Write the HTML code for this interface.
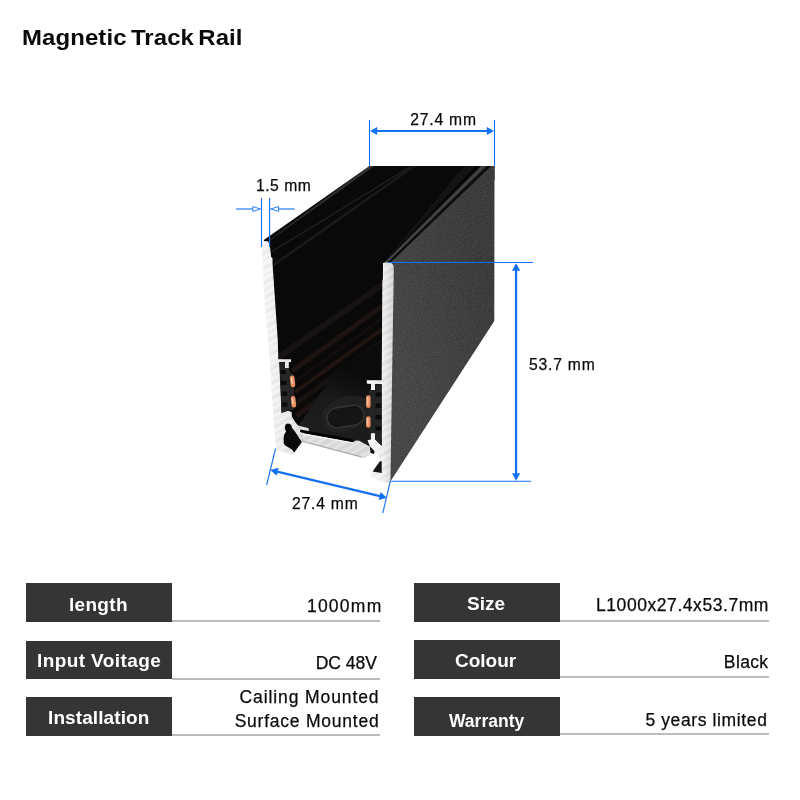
<!DOCTYPE html>
<html><head><meta charset="utf-8">
<style>
html,body{margin:0;padding:0;background:#fff;}
body{width:800px;height:800px;position:relative;overflow:hidden;font-family:"Liberation Sans",sans-serif;color:#0b0b0b;}
.t{position:absolute;white-space:nowrap;line-height:1;}
.t,.dim,.val,.box{opacity:0.999;will-change:opacity;}
.dim,.val{-webkit-text-stroke:0.25px #0b0b0b;}
#title{left:22.4px;top:26.7px;font-size:21.6px;font-weight:bold;letter-spacing:0.1px;word-spacing:-2.2px;color:#0a0a0a;transform:scaleX(1.108);transform-origin:0 0;}
.box{position:absolute;background:#353535;color:#fff;font-weight:bold;font-size:19px;text-align:center;width:145.5px;height:38.6px;line-height:39px;overflow:hidden;}
.box span{position:relative;display:inline-block;will-change:transform;}
.ln{position:absolute;height:2px;background:#bcbcbc;}
.val{position:absolute;text-align:right;font-size:17.5px;letter-spacing:0.75px;white-space:nowrap;color:#0b0b0b;line-height:20px;}
.dim{position:absolute;white-space:nowrap;font-size:15.7px;letter-spacing:0.78px;line-height:1;color:#0b0b0b;}
svg{position:absolute;left:0;top:0;}
</style></head><body>
<div id="title" class="t">Magnetic Track Rail</div>

<svg width="800" height="800" viewBox="0 0 800 800">
<defs>
<linearGradient id="alL" x1="0" y1="0" x2="1" y2="0"><stop offset="0" stop-color="#f6f6f6"/><stop offset="0.5" stop-color="#ececec"/><stop offset="1" stop-color="#dadada"/></linearGradient>
<linearGradient id="alR" x1="0" y1="0" x2="1" y2="0"><stop offset="0" stop-color="#fafafa"/><stop offset="0.6" stop-color="#eeeeee"/><stop offset="1" stop-color="#d2d2d2"/></linearGradient>
<linearGradient id="face" gradientUnits="userSpaceOnUse" x1="392" y1="330" x2="496" y2="300"><stop offset="0" stop-color="#424242"/><stop offset="0.5" stop-color="#3c3c3c"/><stop offset="1" stop-color="#363636"/></linearGradient>
<linearGradient id="floor" gradientUnits="userSpaceOnUse" x1="330" y1="440" x2="360" y2="375"><stop offset="0" stop-color="#1d1d1d"/><stop offset="0.5" stop-color="#1a1a1a"/><stop offset="1" stop-color="#0b0b0b"/></linearGradient>
<pattern id="brush" width="40" height="13" patternUnits="userSpaceOnUse" patternTransform="rotate(-30)"><rect width="40" height="13" fill="none"/><rect y="0" width="40" height="1" fill="#8c8c8c" opacity="0.16"/><rect y="3.1" width="40" height="0.8" fill="#fff" opacity="0.5"/><rect y="6.2" width="40" height="0.7" fill="#909090" opacity="0.13"/><rect y="9.3" width="40" height="1.1" fill="#fff" opacity="0.45"/><rect y="11.3" width="40" height="0.6" fill="#888" opacity="0.14"/></pattern>
<clipPath id="inner"><polygon points="268,241 369.5,166 494.5,166 494.5,175 393.5,262.5 383,263 382,445 300,445 282,420 279,360 270,247"/></clipPath>
<filter id="grain" x="0" y="0" width="100%" height="100%"><feTurbulence type="fractalNoise" baseFrequency="0.9" numOctaves="2" seed="3" result="n"/><feColorMatrix in="n" type="matrix" values="0 0 0 0 0.5  0 0 0 0 0.5  0 0 0 0 0.5  0.9 0 0 0 -0.32"/><feComposite in2="SourceGraphic" operator="in"/></filter>
</defs>

<!-- interior black -->
<polygon points="263.75,240 369.5,166 494.5,166 494.5,180 393.5,262.5 383,263 382,446 371,452 363.5,457 301.75,441 290,445 280,445 266,246" fill="#0a0909"/>
<g clip-path="url(#inner)">
  <!-- subtle ridges on receding inner left wall -->
  <polygon points="263.75,240 369.5,166 374.5,166 268.8,241.2" fill="#303030"/>
  <line x1="272" y1="251.5" x2="410" y2="167" stroke="#222" stroke-width="1.3"/>
  <line x1="272" y1="266" x2="420" y2="162" stroke="#1a1a1a" stroke-width="2.5"/>
  <line x1="279" y1="357" x2="470" y2="223" stroke="#161312" stroke-width="6"/>
  <line x1="292" y1="371" x2="470" y2="243" stroke="#1d1411" stroke-width="5"/>
  <line x1="294" y1="382" x2="470" y2="255" stroke="#120d0c" stroke-width="3"/>
  <line x1="295" y1="392" x2="470" y2="266" stroke="#211511" stroke-width="4"/>
  <line x1="295" y1="404" x2="470" y2="279" stroke="#17110f" stroke-width="5"/>
  <line x1="296" y1="416" x2="470" y2="292" stroke="#1d1411" stroke-width="5"/>
  <!-- floor -->
  <polygon points="297,428 335,372 383,340 383,440 357,447" fill="url(#floor)"/>
  <ellipse cx="346" cy="414" rx="26" ry="17" transform="rotate(-20 346 414)" fill="#232323" opacity="0.8"/>
  <rect x="327" y="406.5" width="37" height="20" rx="10" ry="9.5" transform="rotate(-9 345.5 416.5)" fill="#151515" stroke="#343434" stroke-width="1.4"/>
  <!-- dark band along right wall inside -->
  <polygon points="383,263 480,166 464,166" fill="#131313"/>
  <polygon points="383,263 480.5,166 476,166" fill="#060606"/>
</g>

<!-- right face -->
<polygon points="389.5,262.5 490.5,166 494.5,166 494.3,321 391,480.6 390,482.6" fill="url(#face)"/>
<polygon points="389.5,262.5 490.5,166 494.5,166 494.3,321 391,480.6 390,482.6" fill="#fff" filter="url(#grain)" opacity="0.35"/>
<!-- band on top edge of right face -->
<polygon points="382.8,263 480,166 491,166 390,263" fill="#0b0b0b"/>
<polygon points="383.6,263 481,166 487,166 387,263" fill="#363636"/>
<polygon points="384.8,263 482.6,166 484.6,166 386.4,263" fill="#4a4a4a"/>

<!-- left wall (alum) -->
<path d="M261.2,242.5 Q261.5,241.3 262.8,241.3 L268.2,241.3 L270,247 L271.1,257 L272.4,258 L272.6,265 L277.75,340 L278.3,359.2 L291,359.2 L291,362 L288.8,362 L288.8,368.2 L285,368.2 L285,362 L279.2,362 L281.5,413 L287.9,410.8 L291.5,412 L292,417 L295,421.75 L298,425.5 L308.5,428.3 L309,431 L300.5,433 L303,442 L294.25,452.8 L292,455.1 L276.25,449.8 L275.9,448 L268.1,340 L264.6,300 Z" fill="url(#alL)"/>
<path d="M261.2,242.5 Q261.5,241.3 262.8,241.3 L268.2,241.3 L270,247 L271.1,257 L272.4,258 L272.6,265 L277.75,340 L278.3,359.2 L291,359.2 L291,362 L288.8,362 L288.8,368.2 L285,368.2 L285,362 L279.2,362 L281.5,413 L287.9,410.8 L291.5,412 L292,417 L295,421.75 L298,425.5 L308.5,428.3 L309,431 L300.5,433 L303,442 L294.25,452.8 L292,455.1 L276.25,449.8 L275.9,448 L268.1,340 L264.6,300 Z" fill="url(#brush)"/>
<!-- left plastic holder -->
<path d="M279.6,362.5 L284.8,362.5 L284.8,368.5 L289,368.5 L290,372 L293.6,374.5 L294.4,409 L288,410.6 L281.6,412.8 Z" fill="#262626"/>
<g fill="#0a0a0a"><rect x="280.3" y="370" width="5.6" height="4"/><rect x="280.9" y="380.5" width="5.6" height="4.5"/><rect x="281.5" y="391.5" width="5.6" height="4.5"/><rect x="282" y="402.5" width="5.4" height="4"/></g>
<!-- left copper -->
<rect x="290.3" y="375.5" width="4.6" height="11.8" rx="2.2" fill="#e78c5d" transform="rotate(-6 292.6 381.4)"/>
<rect x="291.2" y="377" width="1.6" height="7" rx="0.8" fill="#f6c7a6" transform="rotate(-6 292.6 381.4)"/>
<rect x="291.2" y="396" width="4.6" height="11.6" rx="2.2" fill="#e78c5d" transform="rotate(-6 293.5 401.8)"/>
<rect x="292" y="397.5" width="1.6" height="7" rx="0.8" fill="#f6c7a6" transform="rotate(-6 293.5 401.8)"/>
<!-- left foot hollow -->
<path d="M288.2,423.6 Q291.8,424 291.8,427.5 L296,433 L301.75,442 L294.25,452.5 L292,449.5 L284.8,445.3 Q283.2,443 283.6,439 Q283.5,434.5 286,431.5 Q284.6,429.5 284.9,427 Q285.2,423.6 288.2,423.6 Z" fill="#0a0a0a"/>

<!-- bottom plate -->
<path d="M300.5,432.8 L353.2,442.2 L355,440.8 L358.5,440.6 L370,446.5 L371,453 L364,458.5 L361.5,457.4 L303,442 Z" fill="#dcdcdc"/>
<path d="M300.5,432.8 L353.2,442.2 L355,440.8 L358.5,440.6 L370,446.5 L371,453 L364,458.5 L361.5,457.4 L303,442 Z" fill="url(#brush)"/>
<path d="M300.5,433.6 L353.2,443" stroke="#f7f7f7" stroke-width="1.2" fill="none"/>
<path d="M303,441.5 L361.5,456.9" stroke="#ababab" stroke-width="1.2" fill="none"/>
<!-- magnet strip on plate -->
<path d="M300.2,430.7 L353,440.6" stroke="#050505" stroke-width="2.6" fill="none"/>
<path d="M370.2,448 L375,449.8 L374,454 L370.6,453 Z" fill="#0d0d0d"/>

<!-- right wall (alum) -->
<path d="M384.9,262.6 L389.5,262.6 Q393.4,263.4 393.8,267.5 L390.4,482.6 L384,482.6 L371.3,477.8 L370.9,473.5 L372.5,471 L379.9,460.8 L378,455 L369.75,446 L367.5,440.3 L370.9,439.6 L370.9,433.2 L375,433.2 L375,439.5 L381.75,446 L381.7,384 L375,384 L375,390 L371,390 L371,384 L366.8,383.5 L366.8,380.3 L381.7,380.3 L382.4,280 L383.6,278.5 L383.2,266 Q383.5,263 384.9,262.6 Z" fill="url(#alR)"/>
<path d="M384.9,262.6 L389.5,262.6 Q393.4,263.4 393.8,267.5 L390.4,482.6 L384,482.6 L371.3,477.8 L370.9,473.5 L372.5,471 L379.9,460.8 L378,455 L369.75,446 L367.5,440.3 L370.9,439.6 L370.9,433.2 L375,433.2 L375,439.5 L381.75,446 L381.7,384 L375,384 L375,390 L371,390 L371,384 L366.8,383.5 L366.8,380.3 L381.7,380.3 L382.4,280 L383.6,278.5 L383.2,266 Q383.5,263 384.9,262.6 Z" fill="url(#brush)"/>
<!-- right holder -->
<path d="M369,390 L370.8,388 L370.8,390.3 L375.2,390.3 L375.2,384.5 L381.6,384.5 L381.6,445.6 L375.2,439.3 L375.2,433 L370.7,433 L368.6,430 Z" fill="#242424"/>
<g fill="#0a0a0a"><rect x="375.6" y="392.5" width="5.6" height="4.2"/><rect x="375.6" y="403.5" width="5.6" height="4.5"/><rect x="375.6" y="415" width="5.6" height="4.5"/><rect x="375.6" y="426.5" width="5.6" height="4"/></g>
<rect x="366" y="395.2" width="4.6" height="12.8" rx="2.2" fill="#e78c5d"/>
<rect x="366.9" y="397" width="1.6" height="8" rx="0.8" fill="#f4c0a0"/>
<rect x="366" y="416.2" width="4.6" height="11.6" rx="2.2" fill="#e78c5d"/>
<rect x="366.9" y="418" width="1.6" height="7" rx="0.8" fill="#f4c0a0"/>
<!-- right foot hollow -->
<path d="M379.9,461.3 L381.7,461.3 L381.7,473 L372.6,471.6 Z" fill="#141414"/>

<!-- dimensions -->
<g stroke="#1470f3" fill="#1470f3">
<line x1="369.5" y1="120" x2="369.5" y2="166" stroke-width="1.1"/>
<line x1="494.5" y1="120" x2="494.5" y2="166" stroke-width="1.1"/>
<line x1="375" y1="131" x2="489" y2="131" stroke-width="2.2"/>
<polygon points="370.1,131 377.2,126.9 377.2,135.1" stroke="none"/>
<polygon points="493.9,131 486.8,126.9 486.8,135.1" stroke="none"/>
<line x1="388.5" y1="262.45" x2="533" y2="262.45" stroke-width="1.1"/>
<line x1="390.3" y1="481.2" x2="531" y2="481.2" stroke-width="1.1"/>
<line x1="516.1" y1="269" x2="516.1" y2="475" stroke-width="2.2"/>
<polygon points="516.1,263.2 512,270.7 520.2,270.7" stroke="none"/>
<polygon points="516.1,480.8 512,473.3 520.2,473.3" stroke="none"/>
<line x1="261.5" y1="198" x2="261.5" y2="247" stroke-width="1.1"/>
<line x1="269.6" y1="198" x2="269.6" y2="247" stroke-width="1.1"/>
<line x1="236" y1="209" x2="253" y2="209" stroke-width="1.1"/>
<line x1="278.5" y1="209" x2="294.6" y2="209" stroke-width="1.1"/>
<polygon points="260.6,209 252.8,206.6 252.8,211.4" fill="#fff" stroke-width="0.9"/>
<polygon points="270.6,209 278.6,206.6 278.6,211.4" fill="#fff" stroke-width="0.9"/>
<line x1="275.6" y1="448.5" x2="266.6" y2="485" stroke-width="1.1"/>
<line x1="390.2" y1="481.5" x2="382.8" y2="513" stroke-width="1.1"/>
<line x1="276" y1="471.36" x2="381" y2="496.4" stroke-width="2.2"/>
<polygon points="270.3,470 278.55,467.74 276.65,475.74" stroke="none"/>
<polygon points="386.9,497.8 380.55,492.06 378.65,500.06" stroke="none"/>
</g>
</svg>

<div class="dim" id="d1" style="left:410.3px;top:112px;">27.4 mm</div>
<div class="dim" id="d2" style="left:256px;top:178px;letter-spacing:0.5px;">1.5 mm</div>
<div class="dim" id="d3" style="left:529px;top:356.5px;">53.7 mm</div>
<div class="dim" id="d4" style="left:292px;top:496px;">27.4 mm</div>

<div class="box" style="left:26px;top:583px;"><span style="letter-spacing:0.3px;top:2px;">length</span></div>
<div class="box" style="left:26px;top:640.6px;"><span style="letter-spacing:0.4px;">Input Voitage</span></div>
<div class="box" style="left:26px;top:697.2px;"><span style="letter-spacing:0.1px;top:0.5px;">Installation</span></div>
<div class="box" style="left:414.2px;top:583px;"><span style="left:-1px;top:1px;">Size</span></div>
<div class="box" style="left:414.2px;top:640.4px;"><span style="left:-1px;top:0.5px;">Colour</span></div>
<div class="box" style="left:414.2px;top:697.2px;font-size:17.5px;"><span style="top:5px;">Warranty</span></div>
<div class="ln" style="left:171.5px;top:619.9px;width:208px;"></div>
<div class="ln" style="left:171.5px;top:677.5px;width:208px;"></div>
<div class="ln" style="left:171.5px;top:734.2px;width:208px;"></div>
<div class="ln" style="left:559.7px;top:620.2px;width:209px;"></div>
<div class="ln" style="left:559.7px;top:676px;width:209px;"></div>
<div class="ln" style="left:559.7px;top:733.3px;width:209px;"></div>
<div class="val" style="right:417.5px;top:595.5px;letter-spacing:1.25px;">1000mm</div>
<div class="val" style="right:423px;top:652.5px;letter-spacing:0;">DC 48V</div>
<div class="val" style="right:420.5px;top:685px;line-height:24px;letter-spacing:0.9px;">Cailing Mounted<br><span style="letter-spacing:0.77px">Surface Mounted</span></div>
<div class="val" style="right:31px;top:594.5px;letter-spacing:0.56px;">L1000x27.4x53.7mm</div>
<div class="val" style="right:31.5px;top:651.5px;letter-spacing:0.37px;">Black</div>
<div class="val" style="right:32.5px;top:710px;letter-spacing:0.62px;">5 years limited</div>
</body></html>
